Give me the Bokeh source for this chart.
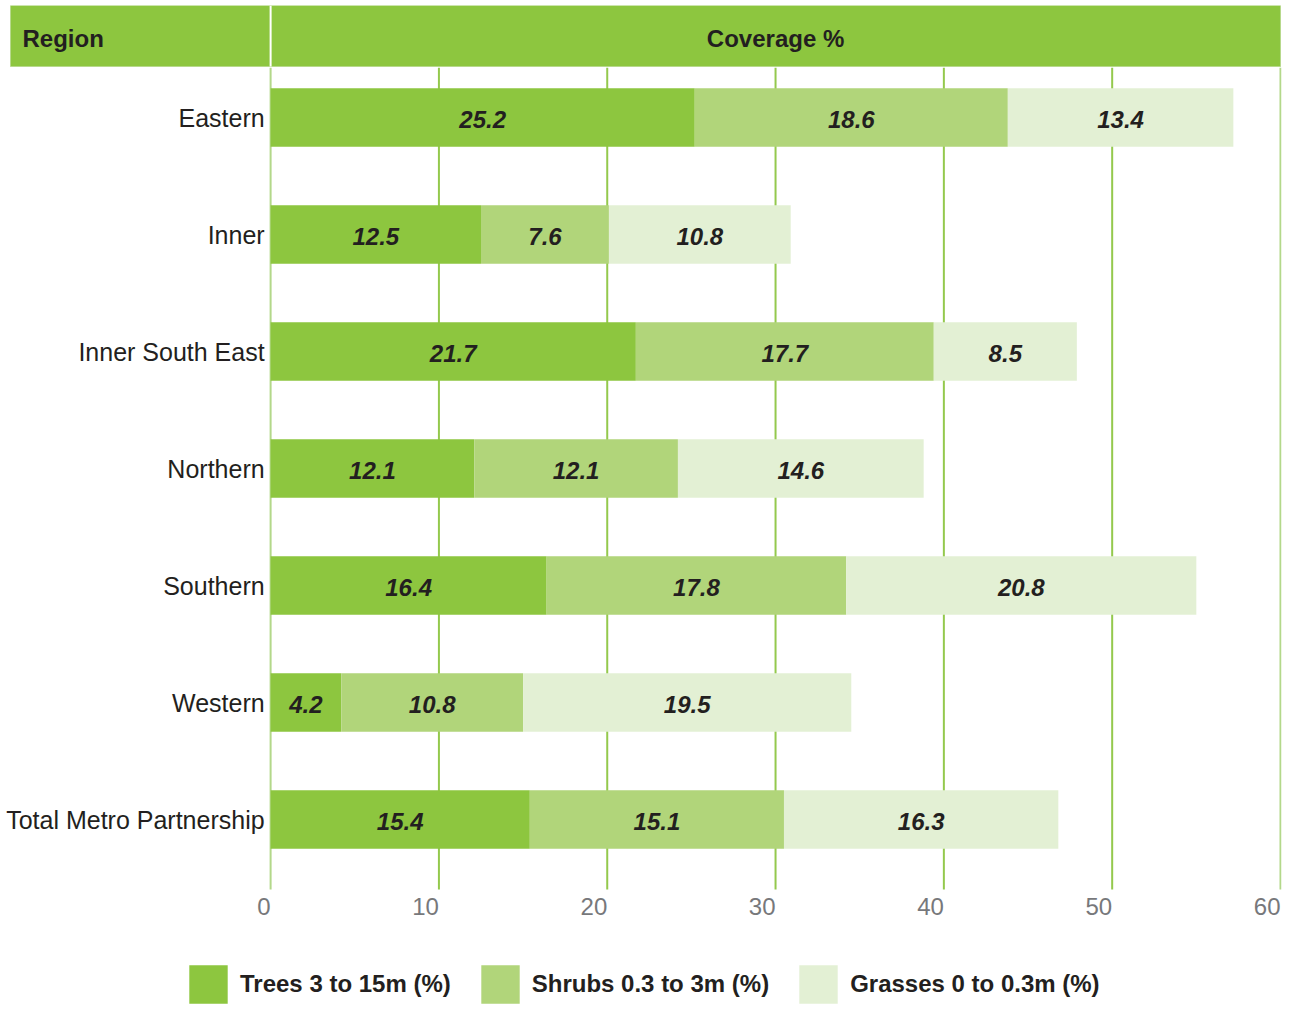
from bokeh.plotting import figure
from bokeh.models import (ColumnDataSource, Range1d, FixedTicker, Legend, LegendItem)
from bokeh.core.properties import value
from bokeh.embed import file_html
from bokeh.resources import INLINE

regions = ["Eastern", "Inner", "Inner South East", "Northern", "Southern",
           "Western", "Total Metro Partnership"]
trees = [25.2, 12.5, 21.7, 12.1, 16.4, 4.2, 15.4]
shrubs = [18.6, 7.6, 17.7, 12.1, 17.8, 10.8, 15.1]
grasses = [13.4, 10.8, 8.5, 14.6, 20.8, 19.5, 16.3]
series_names = ["Trees 3 to 15m (%)", "Shrubs 0.3 to 3m (%)", "Grasses 0 to 0.3m (%)"]
x_ticks = [0, 10, 20, 30, 40, 50, 60]
header_left = "Region"
header_right = "Coverage %"

C_TREES = "#8dc63f"
C_SHRUBS = "#b1d57a"
C_GRASS = "#e3f0d4"
TXT = "#231f20"
FONT = "Liberation Sans"

idx = list(range(len(regions)))
src = ColumnDataSource(dict(
    y=idx, region=regions, trees=trees, shrubs=shrubs, grasses=grasses,
    t_mid=[t / 2 for t in trees],
    s_mid=[t + s / 2 for t, s in zip(trees, shrubs)],
    g_mid=[t + s + g / 2 for t, s, g in zip(trees, shrubs, grasses)],
    t_lab=[f"{v:.1f}" for v in trees],
    s_lab=[f"{v:.1f}" for v in shrubs],
    g_lab=[f"{v:.1f}" for v in grasses],
))

# layout of the frame in data units (one row = 117 px, 10 units = 168.25 px)
y_top = -0.9573     # frame top (header top)
head_bot = -0.4359  # header bottom
grid_bot = 6.598    # bottom of gridlines / axis line
y_bot = 7.615       # frame bottom
x_start = -16.048   # frame left (page edge)
head_left = -15.453 # header band left
x_end = 60.06

p = figure(width=1290, height=1008, output_backend="svg", toolbar_location=None,
           x_range=Range1d(x_start, x_end), y_range=Range1d(y_bot, y_top),
           y_axis_location=None, min_border_left=0, min_border_right=9,
           min_border_top=5, min_border_bottom=0)
p.grid.visible = False
p.outline_line_color = None
p.background_fill_color = "white"

# header band
p.quad(left=[head_left], right=[60], top=[y_top], bottom=[head_bot],
       fill_color=C_TREES, line_color="#b7d98c", line_width=1)
p.segment(x0=[0], x1=[0], y0=[y_top], y1=[head_bot], line_color="white", line_width=2)
p.text(x=[head_left], y=[(y_top + head_bot) / 2], text=[header_left], x_offset=12, y_offset=2,
       text_font=value(FONT), text_font_style="bold", text_font_size="24px",
       text_color=TXT, text_align="left", text_baseline="middle")
p.text(x=[30], y=[(y_top + head_bot) / 2], text=[header_right], y_offset=2,
       text_font=value(FONT), text_font_style="bold", text_font_size="24px",
       text_color=TXT, text_align="center", text_baseline="middle")

# gridlines
grid_colors = ["#b3d88a" if t in (0, 60) else "#94c94d" for t in x_ticks]
p.segment(x0=x_ticks, x1=x_ticks, y0=[head_bot + 0.01] * len(x_ticks),
          y1=[grid_bot] * len(x_ticks), line_color=grid_colors, line_width=2)

# bars
rs = p.hbar_stack(["trees", "shrubs", "grasses"], y="y", height=0.5, source=src,
                  color=[C_TREES, C_SHRUBS, C_GRASS], line_color=None)

for xc, lc in (("t_mid", "t_lab"), ("s_mid", "s_lab"), ("g_mid", "g_lab")):
    p.text(x=xc, y="y", text=lc, source=src, text_font=value(FONT),
           text_font_style="bold italic", text_font_size="24px", text_color=TXT,
           text_align="center", text_baseline="middle", y_offset=2)

# region labels
p.text(x=0, y="y", text="region", source=src, x_offset=-6,
       text_font=value(FONT), text_font_size="25px", text_color=TXT,
       text_align="right", text_baseline="middle")

ax = p.xaxis[0]
ax.fixed_location = grid_bot
ax.ticker = FixedTicker(ticks=x_ticks)
ax.axis_line_color = None
ax.major_tick_line_color = None
ax.minor_tick_line_color = None
ax.major_label_text_font = FONT
ax.major_label_text_font_size = "24px"
ax.major_label_text_color = "#77787b"
ax.major_label_orientation = 0.0001
ax.major_label_standoff = 11

legend = Legend(items=[LegendItem(label=n, renderers=[r]) for n, r in zip(series_names, rs)],
                orientation="horizontal", location=(184, 0),
                glyph_width=48, glyph_height=48, label_standoff=8, spacing=25,
                label_text_font=FONT, label_text_font_style="bold",
                label_text_font_size="24px", label_text_color=TXT,
                border_line_color=None, background_fill_alpha=0,
                padding=0, margin=0)
p.add_layout(legend)

open("out.html", "w").write(file_html(p, INLINE))
